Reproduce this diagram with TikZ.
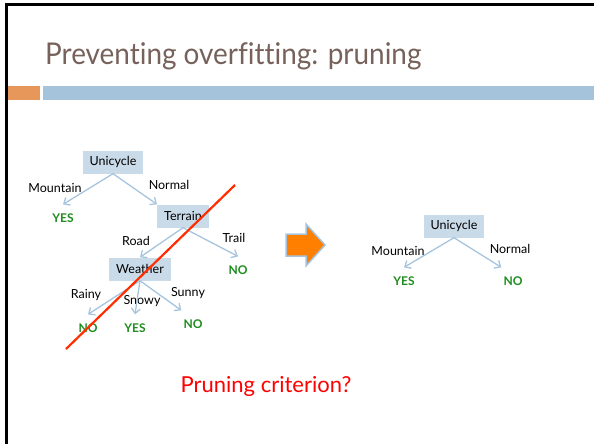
\documentclass[tikz,border=0pt]{standalone}
\usepackage{fontspec}
\setmainfont[Ligatures=NoCommon]{Lato}
\usetikzlibrary{arrows.meta}
\definecolor{titlegray}{RGB}{118,98,90}
\definecolor{barorange}{RGB}{232,151,90}
\definecolor{barblue}{RGB}{165,195,219}
\definecolor{boxblue}{RGB}{201,218,233}
\definecolor{edgeblue}{RGB}{166,196,221}
\definecolor{leafgreen}{RGB}{30,140,30}
\definecolor{cutred}{RGB}{255,45,0}
\definecolor{bigorange}{RGB}{255,127,0}

\begin{document}
\begin{tikzpicture}[
  x=1pt, y=-1pt,
  font=\fontsize{12.5}{15}\selectfont,
  box/.style={fill=boxblue, inner xsep=7pt, minimum height=23pt},
  leaf/.style={text=leafgreen, font=\fontsize{12}{14}\selectfont\bfseries, inner xsep=2pt, inner ysep=9pt},
  lbl/.style={inner sep=1pt},
  arrow/.style={-{Straight Barb[length=5pt, width=9pt]}, edgeblue, line width=1.3pt}
]
\useasboundingbox (0,0) rectangle (594,444);
\draw[line width=3pt] (594,4.5) -- (6,4.5) -- (6,444);
\fill[barorange] (7.5,86) rectangle (40,100);
\fill[barblue] (43,86) rectangle (594,100);
\node[anchor=base west, text=titlegray, font=\fontsize{30}{36}\selectfont, inner sep=0pt, xscale=0.93] (title) at (45,65) {Preventing overfitting: pruning};

\node[box] (u) at (113,162) {Unicycle};
\node[box] (t) at (183,216) {Terrain};
\node[box] (w) at (140,269) {Weather};
\node[leaf] (y1) at (63,218) {YES};
\node[leaf] (n1) at (238,270) {NO};
\node[leaf] (n2) at (88,328) {NO};
\node[leaf] (y2) at (135,328) {YES};
\node[leaf] (n3) at (193,324) {NO};
\node[lbl] (l1) at (55,188) {Mountain};
\node[lbl] (l2) at (169,185) {Normal};
\node[lbl] (l3) at (136,241) {Road};
\node[lbl] (l4) at (234,238) {Trail};
\node[lbl] (l5) at (86,295) {Rainy};
\node[lbl] (l6) at (142,301) {Snowy};
\node[lbl] (l7) at (188,293) {Sunny};
\draw[arrow] (u.south) -- (y1.north);
\draw[arrow] (u.south) -- (t.north west);
\draw[arrow] (t.south) -- (w.north);
\draw[arrow] (t.south) -- (n1.north);
\draw[arrow] (w.south) -- (n2.north);
\draw[arrow] (w.south) -- (y2.north);
\draw[arrow] (w.south) -- (n3.north west);

\coordinate (c1) at (235,185);
\coordinate (c2) at (66,349);
\draw[cutred, line width=2.2pt] (c1) -- (c2);

\draw[fill=bigorange, draw=edgeblue, line width=1.5pt]
  (286,234) -- (306,234) -- (306,224) -- (325,245) -- (306,266) -- (306,256) -- (286,256) -- cycle;

\node[box] (ru) at (454,226) {Unicycle};
\node[leaf] (ry) at (404,281) {YES};
\node[leaf] (rn) at (513,281) {NO};
\node[lbl] (rl1) at (398,251) {Mountain};
\node[lbl] (rl2) at (510,249) {Normal};
\draw[arrow] (ru.south) -- (ry.north);
\draw[arrow] (ru.south) -- (rn.north west);

\node[anchor=base, text=red, font=\fontsize{22}{26}\selectfont, inner sep=0pt] (crit) at (266,392) {Pruning criterion?};
\end{tikzpicture}
\end{document}
